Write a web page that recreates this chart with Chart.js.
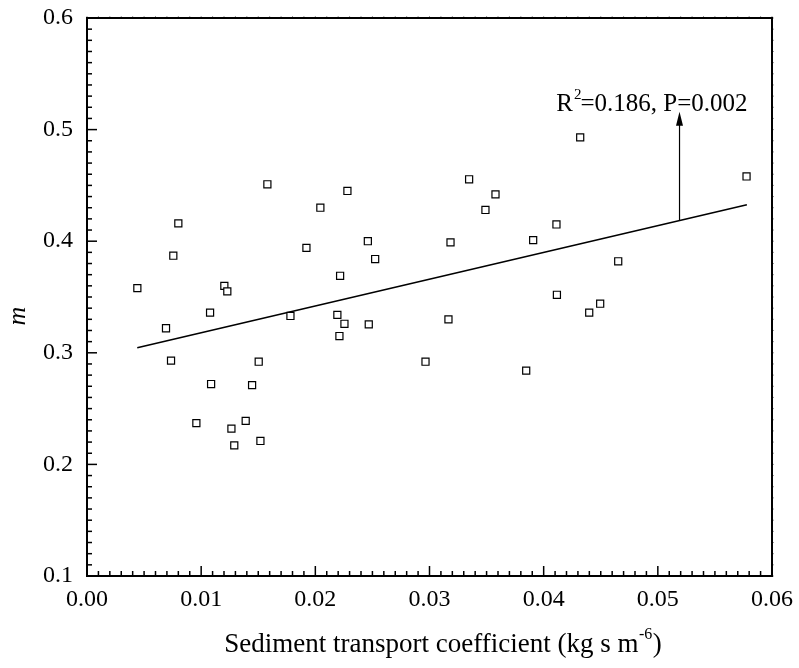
<!DOCTYPE html>
<html><head><meta charset="utf-8">
<script src="https://cdn.jsdelivr.net/npm/chart.js@4.4.0/dist/chart.umd.min.js"></script>
<style>html,body{margin:0;padding:0;background:#fff;}#wrap{width:799px;height:668px;position:relative;}</style>
</head><body><div id="wrap"><canvas id="c" width="799" height="668"></canvas></div>
<script>
// ---- data ----
const transportCoef = [0.00441,0.00692,0.00736,0.00756,0.0080,0.00958,0.01078,0.01087,0.01203,0.01229,
  0.01265,0.0129,0.0139,0.01446,0.01504,0.01519,0.0158,0.01782,0.01922,0.02044,
  0.02193,0.02211,0.02217,0.02255,0.02281,0.0246,0.02468,0.02524,0.02965,0.03166,
  0.03184,0.03347,0.0349,0.03578,0.03847,0.03908,0.04112,0.04116,0.0432,0.04399,
  0.04495,0.04653,0.05777];
const mValues = [0.358,0.322,0.293,0.387,0.416,0.237,0.336,0.272,0.360,0.355,
  0.232,0.217,0.239,0.271,0.292,0.221,0.451,0.333,0.394,0.430,
  0.334,0.315,0.369,0.326,0.445,0.400,0.3255,0.384,0.292,0.330,
  0.399,0.4555,0.428,0.442,0.284,0.401,0.415,0.352,0.493,0.336,
  0.344,0.382,0.458];
const fitLineX = [0.0044, 0.0578];
const fitLineY = [0.3046, 0.4327];
const xTickLabels = ['0.00','0.01','0.02','0.03','0.04','0.05','0.06'];
const yTickLabels = ['0.1','0.2','0.3','0.4','0.5','0.6'];
const xMinorStep = 0.001;
const yMinorStep = 0.01;
const statR2 = '0.186';
const statP = '0.002';
const arrowAtX = 0.0519;
const arrowTipY = 0.516;
const labelAtX = 0.0411;
const labelAtY = 0.5165;
const xTitleMain = 'Sediment transport coefficient (kg s m';
const xTitleSup = '-6';
const xTitleEnd = ')';
const yTitle = 'm';

const serif = '"Liberation Serif", "Times New Roman", serif';

const scatterPoints = transportCoef.map((x, i) => ({x, y: mValues[i]}));
const fitPoints = fitLineX.map((x, i) => ({x, y: fitLineY[i]}));

function seg(ctx, x1, y1, x2, y2) { ctx.beginPath(); ctx.moveTo(x1, y1); ctx.lineTo(x2, y2); ctx.stroke(); }

const decor = {
  id: 'decor',
  afterDatasetsDraw(chart) {
    const {ctx, chartArea: a, scales: {x, y}} = chart;
    ctx.save();
    ctx.strokeStyle = '#000';
    ctx.lineWidth = 1.5;
    const nx = Math.round((x.max - x.min) / xMinorStep);
    for (let i = 0; i <= nx; i++) {
      const px = x.getPixelForValue(x.min + i * xMinorStep);
      const len = i % 10 === 0 ? 10 : 5;
      seg(ctx, px, a.bottom, px, a.bottom - len);
    }
    const ny = Math.round((y.max - y.min) / yMinorStep);
    for (let i = 0; i <= ny; i++) {
      const py = y.getPixelForValue(y.min + i * yMinorStep);
      const len = i % 10 === 0 ? 10 : 5;
      seg(ctx, a.left, py, a.left + len, py);
    }
    // faint tiny ticks on top and right spines
    ctx.strokeStyle = '#999';
    ctx.lineWidth = 1;
    for (let i = 0; i <= nx; i++) {
      const px = x.getPixelForValue(x.min + i * xMinorStep);
      seg(ctx, px, a.top, px, a.top - 2);
    }
    for (let i = 0; i <= ny; i++) {
      const py = y.getPixelForValue(y.min + i * yMinorStep);
      seg(ctx, a.right, py, a.right + 2, py);
    }
    // frame
    ctx.strokeStyle = '#000';
    ctx.lineWidth = 2;
    ctx.strokeRect(a.left, a.top, a.right - a.left, a.bottom - a.top);

    // arrow from fit line to label
    const ax = x.getPixelForValue(arrowAtX);
    const t = (arrowAtX - fitLineX[0]) / (fitLineX[1] - fitLineX[0]);
    const yOnLine = fitLineY[0] + t * (fitLineY[1] - fitLineY[0]);
    const ay0 = y.getPixelForValue(yOnLine);
    const ay1 = y.getPixelForValue(arrowTipY);
    ctx.lineWidth = 1.2;
    seg(ctx, ax, ay0, ax, ay1 + 12);
    ctx.fillStyle = '#000';
    ctx.beginPath();
    ctx.moveTo(ax, ay1);
    ctx.lineTo(ax - 3.5, ay1 + 14);
    ctx.lineTo(ax + 3.5, ay1 + 14);
    ctx.closePath();
    ctx.fill();

    // stats label
    let lx = x.getPixelForValue(labelAtX);
    const ly = y.getPixelForValue(labelAtY);
    ctx.textBaseline = 'alphabetic';
    ctx.textAlign = 'left';
    ctx.font = '25px ' + serif;
    ctx.fillText('R', lx, ly);
    lx += ctx.measureText('R').width;
    ctx.font = '15px ' + serif;
    ctx.fillText('2', lx + 1, ly - 12);
    lx += ctx.measureText('2').width;
    ctx.font = '25px ' + serif;
    ctx.fillText('=' + statR2 + ', P=' + statP, lx, ly);

    // x title
    const mainFont = '27px ' + serif, supFont = '16px ' + serif;
    ctx.font = mainFont; const w1 = ctx.measureText(xTitleMain).width; const w3 = ctx.measureText(xTitleEnd).width;
    ctx.font = supFont; const w2 = ctx.measureText(xTitleSup).width;
    const total = w1 + w2 + w3 + 1;
    let tx = 443 - total / 2;
    const tyBase = 652;
    ctx.font = mainFont; ctx.fillText(xTitleMain, tx, tyBase); tx += w1;
    ctx.font = supFont; ctx.fillText(xTitleSup, tx + 0.5, tyBase - 13); tx += w2 + 1;
    ctx.font = mainFont; ctx.fillText(xTitleEnd, tx, tyBase);

    // y title
    ctx.save();
    ctx.translate(25, 316);
    ctx.rotate(-Math.PI / 2);
    ctx.textAlign = 'center';
    ctx.font = 'italic 26px ' + serif;
    ctx.fillText(yTitle, 0, 0);
    ctx.restore();

    ctx.restore();
  }
};

new Chart(document.getElementById('c'), {
  type: 'scatter',
  data: {
    datasets: [
      {
        label: 'points',
        data: scatterPoints,
        pointStyle: 'rect',
        pointRadius: 5,
        pointBorderWidth: 1.2,
        pointBorderColor: '#000',
        pointBackgroundColor: '#fff',
        showLine: false
      },
      {
        label: 'fit',
        type: 'line',
        data: fitPoints,
        borderColor: '#000',
        borderWidth: 1.6,
        pointRadius: 0,
        fill: false
      }
    ]
  },
  options: {
    responsive: false,
    devicePixelRatio: 1,
    animation: false,
    layout: {padding: {left: 0, right: 27, top: 18, bottom: 0}},
    plugins: {legend: {display: false}, tooltip: {enabled: false}},
    scales: {
      x: {
        type: 'linear', min: 0, max: 0.06,
        ticks: {stepSize: 0.01, color: '#000', padding: 9, maxRotation: 0, autoSkip: false,
          font: {family: serif, size: 24},
          callback: (v, i) => xTickLabels[i]},
        grid: {display: false, drawTicks: false},
        border: {display: false},
        afterFit: s => { s.height = 92; s.paddingLeft = 0; s.paddingRight = 0; }
      },
      y: {
        type: 'linear', min: 0.1, max: 0.6,
        ticks: {stepSize: 0.1, color: '#000', padding: 14, autoSkip: false,
          font: {family: serif, size: 24},
          callback: (v, i) => yTickLabels[i]},
        grid: {display: false, drawTicks: false},
        border: {display: false},
        afterFit: s => { s.width = 87; s.paddingTop = 0; s.paddingBottom = 0; }
      }
    }
  },
  plugins: [decor]
});
</script>
</body></html>
